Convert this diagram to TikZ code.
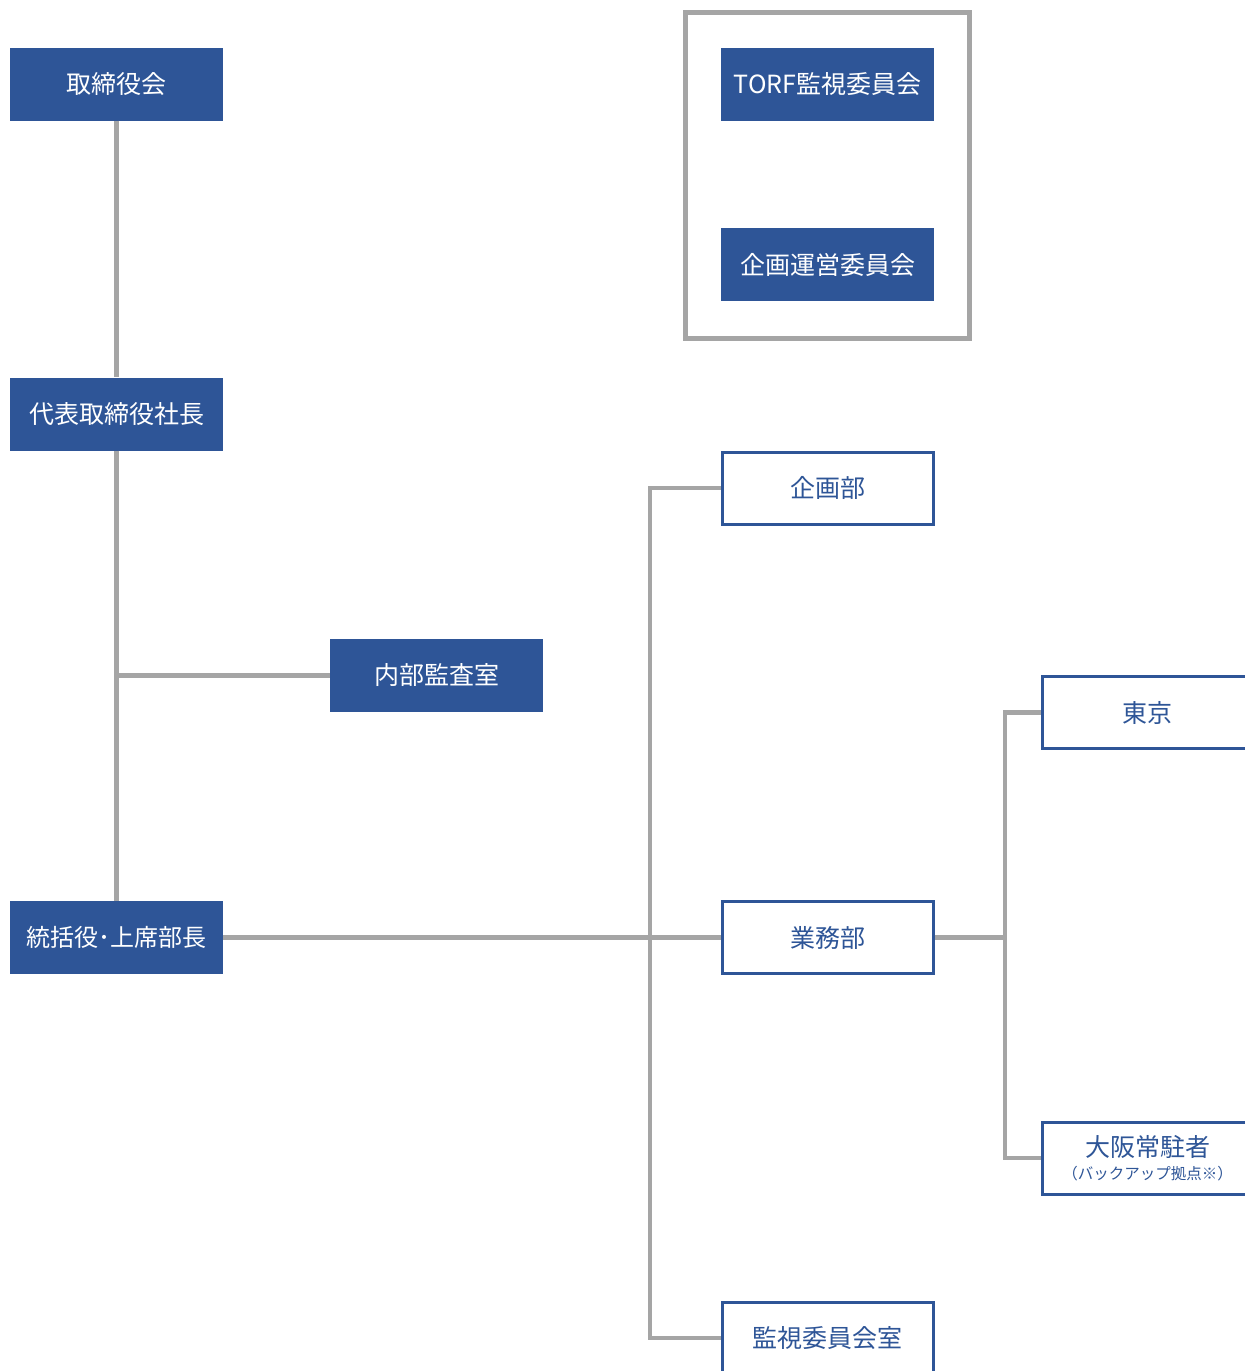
\documentclass[tikz,border=0pt]{standalone}
\usepackage{fontspec}
\setmainfont{Noto Sans CJK JP}
\definecolor{navy}{HTML}{2E5597}
\definecolor{linegray}{HTML}{A5A5A5}
\begin{document}
\begin{tikzpicture}[x=1pt,y=-1pt,
  filledbox/.style={fill=navy,draw=none,text=white,minimum width=213pt,minimum height=73pt,inner sep=0pt,font=\fontsize{25}{29}\selectfont},
  openbox/.style={fill=white,draw=navy,line width=3pt,text=navy,minimum width=211pt,minimum height=72pt,inner sep=0pt,font=\fontsize{25}{29}\selectfont},
  conn/.style={draw=linegray,line width=4.5pt},
  frame/.style={draw=linegray,line width=5pt}]
\clip (0,0) rectangle (1245,1371);
\fill[white] (0,0) rectangle (1245,1371);
% frame
\draw[frame] (685.5,12.5) rectangle (969.5,338.5);
\coordinate (busA) at (650,0);
\coordinate (busB) at (1005,0);
\node[filledbox] (board) at (116.5,84) {取締役会};
\node[filledbox] (pres) at (116.5,414) {代表取締役社長};
\node[filledbox,font=\fontsize{24}{28}\selectfont] (gm) at (116.5,937.5) {統括役･上席部長};
\node[filledbox] (audit) at (436.5,675.5) {内部監査室};
\node[filledbox] (torf) at (827.5,84) {TORF監視委員会};
\node[filledbox] (plancom) at (827.5,264.5) {企画運営委員会};
\node[openbox] (plan) at (827.5,488) {企画部};
\node[openbox] (ops) at (827.5,937.5) {業務部};
\node[openbox] (mon) at (827.5,1338) {監視委員会室};
\node[openbox] (tokyo) at (1147.5,712.5) {東京};
\node[openbox,align=center] (osaka) at (1147.5,1158) {大阪常駐者\\[-6pt]{\fontsize{15.5}{18}\selectfont（バックアップ拠点※）}};
\draw[conn] (board.south) -- (pres.north);
\draw[conn] (pres.south) -- (gm.north);
\draw[conn] (pres.south |- audit.west) -- (audit.west);
\draw[conn] (gm.east) -- (ops.west);
\draw[conn] (plan.west) -- (plan.west -| busA) -- (mon.west -| busA) -- (mon.west);
\draw[conn] (ops.east) -- (ops.east -| busB);
\draw[conn] (tokyo.west) -- (tokyo.west -| busB) -- (osaka.west -| busB) -- (osaka.west);
\end{tikzpicture}
\end{document}
